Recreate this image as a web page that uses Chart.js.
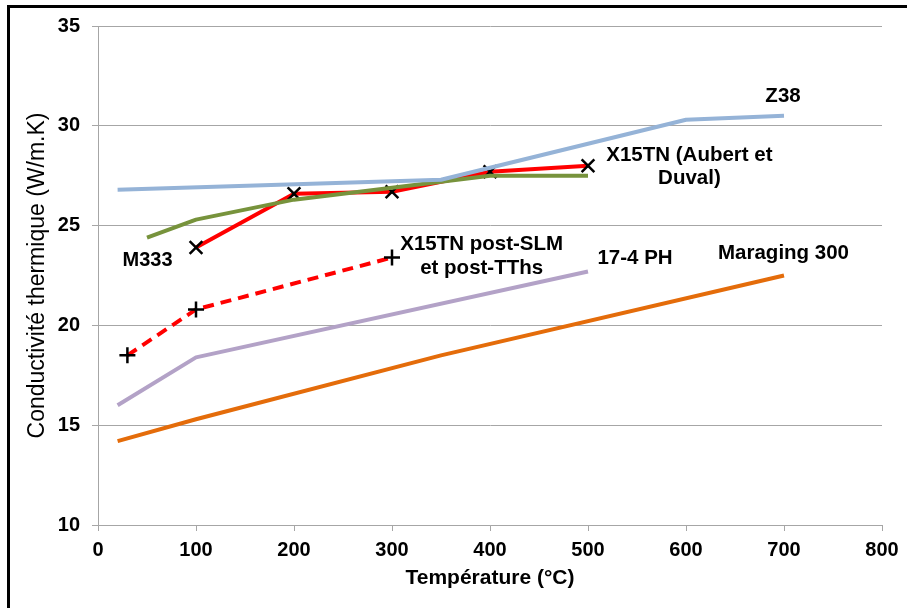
<!DOCTYPE html>
<html lang="fr">
<head>
<meta charset="UTF-8">
<title>Conductivité thermique</title>
<script src="https://cdn.jsdelivr.net/npm/chart.js@4/dist/chart.umd.min.js"></script>
<style>
    body { margin: 0; background: #fff; }
    #wrap { position: relative; width: 907px; height: 608px; overflow: hidden; }
    #graf { position: absolute; left: 0; top: 0; }
    .cadre { position: absolute; left: 7px; top: 5px; width: 1000px; height: 800px; border: 3px solid #000; pointer-events: none; }
</style>
</head>
<body>
<div id="wrap">
    <canvas id="graf" width="907" height="608"></canvas>
    <div class="cadre"></div>
</div>
<script>
    // valeurs (température en °C, conductivité en W/m.K)
    var z38_T = [20, 350, 600, 700]
    var z38_K = [26.8, 27.3, 30.3, 30.5]

    var m333_T = [50, 100, 200, 300, 400, 500]
    var m333_K = [24.4, 25.3, 26.3, 26.9, 27.5, 27.5]

    var x15tn_T = [100, 200, 300, 400, 500]
    var x15tn_K = [23.9, 26.6, 26.7, 27.7, 28.0]

    var slm_T = [30, 100, 300]
    var slm_K = [18.5, 20.8, 23.4]

    var ph174_T = [20, 100, 500]
    var ph174_K = [16.0, 18.4, 22.7]

    var mar_T = [20, 100, 350, 700]
    var mar_K = [14.2, 15.3, 18.5, 22.5]

    var ticksX = [0, 100, 200, 300, 400, 500, 600, 700, 800]
    var ticksY = [10, 15, 20, 25, 30, 35]

    // étiquettes des courbes (texte, ancrage en unités des axes)
    var etiquettes = [
        { texte: ['Z38'], t: 699, k: 31.5, taille: 20.5 },
        { texte: ['X15TN (Aubert et', 'Duval)'], t: 603.5, k: 27.94, taille: 20.5 },
        { texte: ['M333'], t: 50.5, k: 23.23, taille: 20 },
        { texte: ['X15TN post-SLM', 'et post-TThs'], t: 391.5, k: 23.46, taille: 20.5 },
        { texte: ['17-4 PH'], t: 548, k: 23.35, taille: 20.5 },
        { texte: ['Maraging 300'], t: 699.5, k: 23.6, taille: 20.5 }
    ]

    function pontos(xs, ys) {
        return xs.map((x, i) => ({ x: x, y: ys[i] }))
    }

    var fonte = "'Liberation Sans', Arial, sans-serif"

    var pluginEtiquettes = {
        id: 'etiquettes',
        afterDatasetsDraw(chart) {
            var ctx = chart.ctx
            var sx = chart.scales.x
            var sy = chart.scales.y
            ctx.save()
            ctx.fillStyle = '#000'
            ctx.textAlign = 'center'
            ctx.textBaseline = 'middle'
            etiquettes.forEach(e => {
                ctx.font = 'bold ' + e.taille + 'px ' + fonte
                var px = sx.getPixelForValue(e.t)
                var py = sy.getPixelForValue(e.k)
                var h = e.taille * 1.15
                var y0 = py - (e.texte.length - 1) * h / 2
                e.texte.forEach((l, i) => ctx.fillText(l, px, y0 + i * h))
            })
            ctx.restore()
        }
    }

    var dados = {
        type: 'scatter',
        data: {
            datasets: [
                { label: 'Z38', data: pontos(z38_T, z38_K), borderColor: '#95B3D7', borderWidth: 4, pointRadius: 0 },
                { label: 'M333', data: pontos(m333_T, m333_K), borderColor: '#77933C', borderWidth: 4, pointRadius: 0 },
                {
                    label: 'X15TN (Aubert et Duval)', data: pontos(x15tn_T, x15tn_K), borderColor: '#FF0000', borderWidth: 4,
                    pointStyle: 'crossRot', pointRadius: 9, pointBorderColor: '#000', pointBorderWidth: 2.5
                },
                {
                    label: 'X15TN post-SLM et post-TThs', data: pontos(slm_T, slm_K), borderColor: '#FF0000', borderWidth: 4,
                    borderDash: [11, 7], pointStyle: 'cross', pointRadius: 8, pointBorderColor: '#000', pointBorderWidth: 2.5
                },
                { label: '17-4 PH', data: pontos(ph174_T, ph174_K), borderColor: '#B3A2C7', borderWidth: 4, pointRadius: 0 },
                { label: 'Maraging 300', data: pontos(mar_T, mar_K), borderColor: '#E46C0A', borderWidth: 4, pointRadius: 0 }
            ]
        },
        options: {
            responsive: false,
            animation: false,
            showLine: true,
            layout: { padding: { top: 26, right: 25, left: 0, bottom: 0 } },
            elements: { line: { tension: 0, borderCapStyle: 'butt', borderJoinStyle: 'round' } },
            plugins: { legend: { display: false }, tooltip: { enabled: false } },
            scales: {
                x: {
                    type: 'linear', min: 0, max: 800,
                    afterBuildTicks: s => { s.ticks = ticksX.map(v => ({ value: v })) },
                    afterFit: s => { s.height = 83 },
                    grid: { drawOnChartArea: false, tickLength: 6, color: '#A6A6A6' },
                    border: { color: '#A6A6A6' },
                    ticks: { color: '#000', padding: 7, font: { family: fonte, size: 20, weight: 'bold' } },
                    title: {
                        display: true, text: 'Température (°C)', color: '#000',
                        padding: { top: 0, bottom: 17 }, font: { family: fonte, size: 21, weight: 'bold' }
                    }
                },
                y: {
                    type: 'linear', min: 10, max: 35,
                    afterBuildTicks: s => { s.ticks = ticksY.map(v => ({ value: v })) },
                    afterFit: s => { s.width = 98 },
                    grid: { tickLength: 6, color: '#A6A6A6' },
                    border: { color: '#A6A6A6' },
                    ticks: { color: '#000', padding: 12, font: { family: fonte, size: 20, weight: 'bold' } },
                    title: {
                        display: true, text: 'Conductivité thermique (W/m.K)', color: '#000',
                        padding: { top: 24, bottom: 0 }, font: { family: fonte, size: 23, weight: 'normal' }
                    }
                }
            }
        },
        plugins: [pluginEtiquettes]
    }

    var ctx = document.getElementById('graf')
    var grafico = new Chart(ctx, dados)
</script>
</body>
</html>
